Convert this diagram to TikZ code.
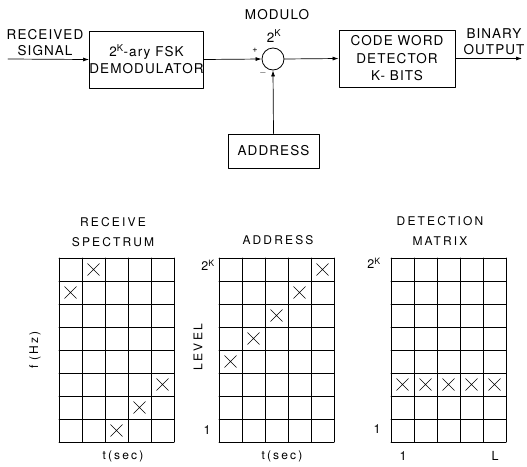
\documentclass[tikz,border=0pt]{standalone}
\usepackage{fontspec}
\setmainfont{TeX Gyre Heros}
\newfontfamily\letterfont[LetterSpace=8]{TeX Gyre Heros}
\newfontfamily\titlefont[LetterSpace=18]{TeX Gyre Heros}
\usetikzlibrary{arrows.meta,shapes.misc}
\tikzset{
  every picture/.style={line join=round, line cap=round, >={Latex[length=6pt,width=4pt]}},
  blockbox/.style={draw, line width=0.8pt, inner sep=0pt, align=center, font=\fontsize{13.5}{17}\selectfont\letterfont},
  sumnode/.style={circle, draw, line width=0.8pt, minimum size=22pt, inner sep=0pt},
  sig/.style={->, line width=0.7pt},
  gridline/.style={line width=0.7pt},
  xmark/.style={cross out, draw, line width=0.6pt, minimum size=11pt, inner sep=0pt},
  boxlabel/.style={align=center, font=\fontsize{13.5}{16}\selectfont\letterfont},
  gridlabel/.style={align=center, font=\fontsize{12}{20}\selectfont\titlefont},
  ticklabel/.style={inner sep=0pt, font=\fontsize{12.5}{14}\selectfont\letterfont},
}

\begin{document}
\begin{tikzpicture}[x=1pt,y=-1pt]
\useasboundingbox (0,0) rectangle (527,466);
% block diagram
\coordinate (in) at (8,59);
\coordinate (out) at (522,58.5);
\node[blockbox, minimum width=113pt, minimum height=57pt] (demod) at (146.5,59.5) {2\textsuperscript{K}-ary FSK\\DEMODULATOR};
\node[sumnode] (sum) at (273,59) {};
\node[blockbox, minimum width=116pt, minimum height=57pt] (code) at (397,58.5) {CODE WORD\\[1pt]DETECTOR\\K- BITS};
\node[blockbox, minimum width=91pt, minimum height=34pt] (addr) at (273.5,151) {ADDRESS};
\node[boxlabel] (rx) at (45,43) {RECEIVED\\SIGNAL};
\node[boxlabel] (bin) at (494,42) {BINARY\\OUTPUT};
\node[boxlabel] (modlabel) at (277,15) {MODULO};
\node[boxlabel] (modexp) at (274,36) {2\textsuperscript{K}};
\node[inner sep=0pt, font=\small] (plus) at (255,50) {+};
\node[inner sep=0pt, font=\small] (minus) at (263,73) {$-$};
\draw[sig] (in) -- (demod.west);
\draw[sig] (demod.east) -- (sum.west);
\draw[sig] (sum.east) -- (code.west);
\draw[sig] (code.east) -- (out);
\draw[sig] (addr.north) -- (sum.south);
% the three matrices
\foreach \gx in {59,219,391} {
  \foreach \i in {0,...,5} \draw[gridline] (\gx+23*\i,258) -- (\gx+23*\i,442);
  \foreach \j in {0,...,8} \draw[gridline] (\gx,258+23*\j) -- (\gx+115,258+23*\j);
}
\foreach \c/\r [count=\k] in {2/1,1/2,5/6,4/7,3/8}
  \node[xmark] (rs\k) at (59+23*\c-11.5,258+23*\r-11.5) {};
\foreach \c/\r [count=\k] in {5/1,4/2,3/3,2/4,1/5}
  \node[xmark] (ad\k) at (219+23*\c-11.5,258+23*\r-11.5) {};
\foreach \c [count=\k] in {1,...,5}
  \node[xmark] (dm\k) at (391+23*\c-11.5,258+23*6-11.5) {};
% labels
\node[gridlabel] (rstitle) at (113,232) {RECEIVE\\SPECTRUM};
\node[gridlabel] (adtitle) at (278,240) {ADDRESS};
\node[gridlabel] (dmtitle) at (440,231) {DETECTION\\MATRIX};
\node[gridlabel] (rsx) at (123,456) {t(sec)};
\node[gridlabel] (adx) at (282,456) {t(sec)};
\node[gridlabel, rotate=90] (rsy) at (35,350) {f (Hz)};
\node[gridlabel, rotate=90] (ady) at (198,347) {LEVEL};
\node[ticklabel] (adtop) at (208,265) {2\textsuperscript{K}};
\node[ticklabel] (adbot) at (207,430) {1};
\node[ticklabel] (dmtop) at (374,263) {2\textsuperscript{K}};
\node[ticklabel] (dmbot) at (377,429) {1};
\node[ticklabel] (dmfirst) at (403,456) {1};
\node[ticklabel] (dmlast) at (495,456) {L};
\end{tikzpicture}
\end{document}
